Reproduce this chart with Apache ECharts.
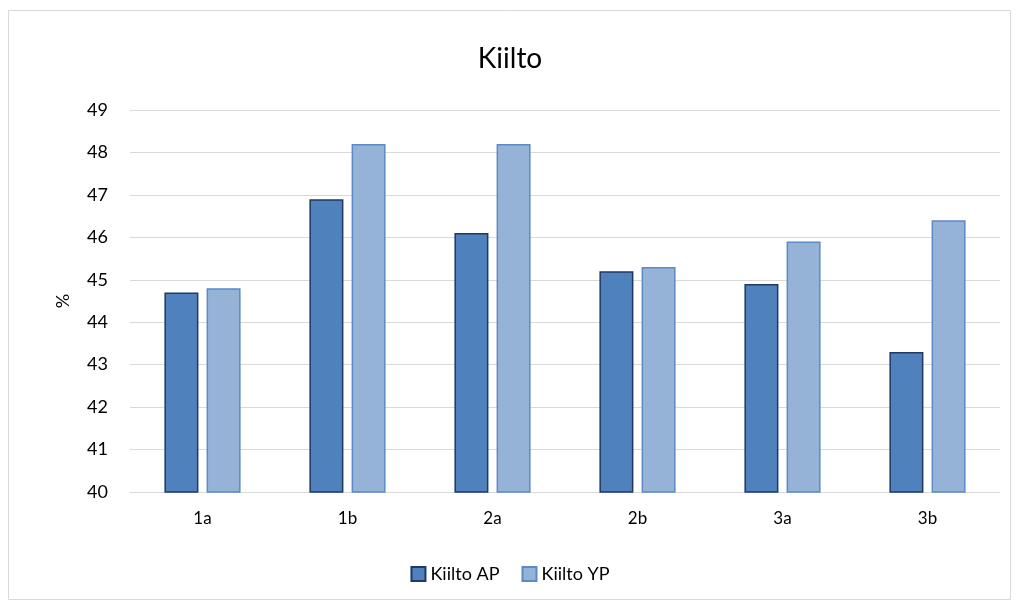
<!DOCTYPE html>
<html><head><meta charset="utf-8">
<script src="https://cdn.jsdelivr.net/npm/echarts@6/dist/echarts.min.js"></script>
<style>html,body{margin:0;padding:0;background:#fff}#c{width:1020px;height:610px}</style>
</head><body><div id="c"></div>
<script>
const categories = ['1a','1b','2a','2b','3a','3b'];
const kiiltoAP = [44.7, 46.9, 46.1, 45.2, 44.9, 43.3];
const kiiltoYP = [44.8, 48.2, 48.2, 45.3, 45.9, 46.4];
const FONT = 'Lato, "Open Sans", sans-serif';
const chart = echarts.init(document.getElementById('c'));
chart.setOption({
  animation: false,
  graphic: [{type:'rect', shape:{x:8.5,y:10.5,width:1002,height:589}, style:{fill:'none', stroke:'#d9d9d9', lineWidth:1}, silent:true}],
  title: {text:'Kiilto', left:'center', top:40, textStyle:{fontFamily:FONT, fontSize:28, fontWeight:'normal', color:'#000'}},
  legend: {bottom:22, left:'center', itemWidth:14, itemHeight:14, itemGap:22, icon:'rect',
    textStyle:{fontFamily:FONT, fontSize:18, color:'#000'},
    data:['Kiilto AP','Kiilto YP']},
  grid: {left:130, right:20, top:110, bottom:118},
  xAxis: {type:'category', data:categories,
    axisLine:{lineStyle:{color:'#d9d9d9', width:1}}, axisTick:{show:false},
    axisLabel:{fontFamily:FONT, fontSize:17, color:'#000', margin:18}},
  yAxis: {type:'value', min:40, max:49, interval:1, name:'%', nameLocation:'middle', nameGap:58, nameRotate:90,
    nameTextStyle:{fontFamily:FONT, fontSize:18, color:'#000'},
    axisLine:{show:false}, axisTick:{show:false},
    axisLabel:{fontFamily:FONT, fontSize:18, color:'#000', margin:22},
    splitLine:{lineStyle:{color:'#d9d9d9', width:1}}},
  series: [
    {name:'Kiilto AP', type:'bar', data:kiiltoAP, barWidth:34, barGap:'24%',
      itemStyle:{color:'#4f81bd', borderColor:'#1f3864', borderWidth:1.5}},
    {name:'Kiilto YP', type:'bar', data:kiiltoYP, barWidth:34,
      itemStyle:{color:'#95b3d7', borderColor:'#5b8ac6', borderWidth:1.5}}
  ]
});
</script></body></html>
